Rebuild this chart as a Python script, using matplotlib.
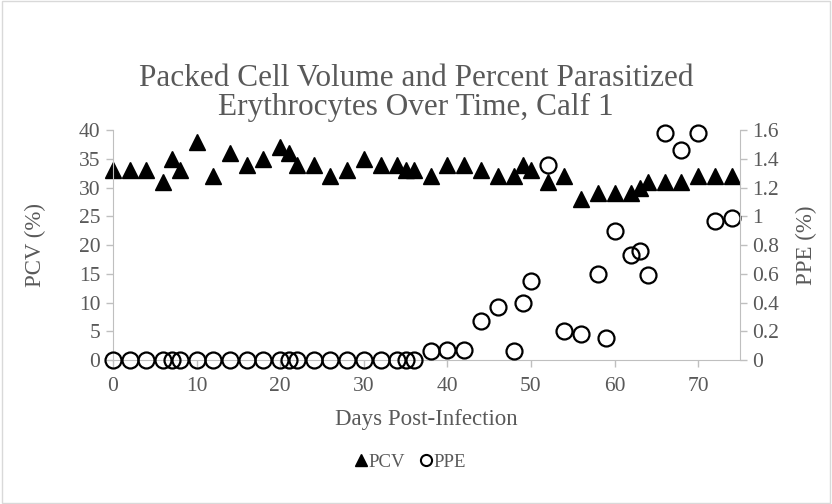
import matplotlib
matplotlib.use("Agg")
import matplotlib.pyplot as plt
from matplotlib.lines import Line2D
from matplotlib.patches import Rectangle

pcv_days = [0, 2, 4, 6, 7, 8, 10, 12, 14, 16, 18, 20, 21, 22, 24, 26, 28, 30, 32, 34, 35, 36,
            38, 40, 42, 44, 46, 48, 49, 50, 52, 54, 56, 58, 60, 62, 63, 64, 66, 68, 70, 72, 74]
pcv = [33, 33, 33, 31, 35, 33, 38, 32, 36, 34, 35, 37, 36, 34, 34, 32, 33, 35, 34, 34, 33, 33,
       32, 34, 34, 33, 32, 32, 34, 33, 31, 32, 28, 29, 29, 29, 30, 31, 31, 31, 32, 32, 32]

ppe_days = [0, 2, 4, 6, 7, 8, 10, 12, 14, 16, 18, 20, 21, 22, 24, 26, 28, 30, 32, 34, 35, 36,
            38, 40, 42, 44, 46, 48, 49, 50, 52, 54, 56, 58, 59, 60, 62, 63, 64, 66, 68, 70, 72, 74]
ppe = [0] * 22 + [0.06, 0.07, 0.07, 0.27, 0.37, 0.06, 0.40, 0.55, 1.36, 0.20, 0.18, 0.60,
                  0.15, 0.90, 0.73, 0.76, 0.59, 1.58, 1.46, 1.58, 0.97, 0.99]

TXT = "#595959"
AX = "#bfbfbf"
plt.rcParams["font.family"] = ["Liberation Serif", "DejaVu Serif"]

fig = plt.figure(figsize=(8.32, 5.04), dpi=100)
fig.patches.append(Rectangle((0.002, 0.002), 0.996, 0.996, transform=fig.transFigure,
                             fill=False, edgecolor="#d9d9d9", lw=1))
ax = fig.add_axes([0.1358, 0.2857, 0.7536, 0.4563])
ax2 = ax.twinx()

ax.plot(pcv_days, pcv, ls="none", marker="^", ms=11, color="black", clip_on=False)
ax2.plot(ppe_days, ppe, ls="none", marker="o", ms=11.5, mfc="none", mec="black", mew=1.6,
         clip_on=False)

ax.set_xlim(0, 75)
ax.set_ylim(0, 40)
ax2.set_ylim(0, 1.6)
ax.set_xticks(range(0, 71, 10))
ax.set_yticks(range(0, 41, 5))
ax2.set_yticks([0, 0.2, 0.4, 0.6, 0.8, 1, 1.2, 1.4, 1.6])
ax2.set_yticklabels(["0", "0.2", "0.4", "0.6", "0.8", "1", "1.2", "1.4", "1.6"])

for a in (ax, ax2):
    for s in a.spines.values():
        s.set_visible(False)
    a.tick_params(colors=AX, labelcolor=TXT, labelsize=15.5, length=5, width=1, pad=4)
ax.tick_params(axis="x", pad=7)
ax.spines["left"].set_visible(True)
ax.spines["left"].set_color(AX)
ax.spines["bottom"].set_visible(True)
ax.spines["bottom"].set_color(AX)
ax2.spines["right"].set_visible(True)
ax2.spines["right"].set_color(AX)

ax.set_xlabel("Days Post-Infection", fontsize=16.5, color=TXT)
ax.set_ylabel("PCV (%)", fontsize=16.5, color=TXT)
ax2.set_ylabel("PPE (%)", fontsize=16.5, color=TXT, rotation=90)
ax.xaxis.set_label_coords(0.5, -0.212)
ax.yaxis.set_label_coords(-0.106, 0.5)
ax2.yaxis.set_label_coords(1.089, 0.5)

fig.text(0.5, 0.815, "Packed Cell Volume and Percent Parasitized\nErythrocytes Over Time, Calf 1",
         ha="center", va="center", fontsize=22.5, color=TXT, linespacing=0.98)

handles = [Line2D([], [], ls="none", marker="^", ms=9, color="black"),
           Line2D([], [], ls="none", marker="o", ms=8, mfc="none", mec="black", mew=1.5)]
fig.legend(handles, ["PCV", "PPE"], loc="center", bbox_to_anchor=(0.493, 0.083), ncol=2,
           frameon=False, fontsize=13.5, labelcolor=TXT, handlelength=0.7, handletextpad=0.05,
           columnspacing=0.8)

fig.savefig("out.png", dpi=100)
